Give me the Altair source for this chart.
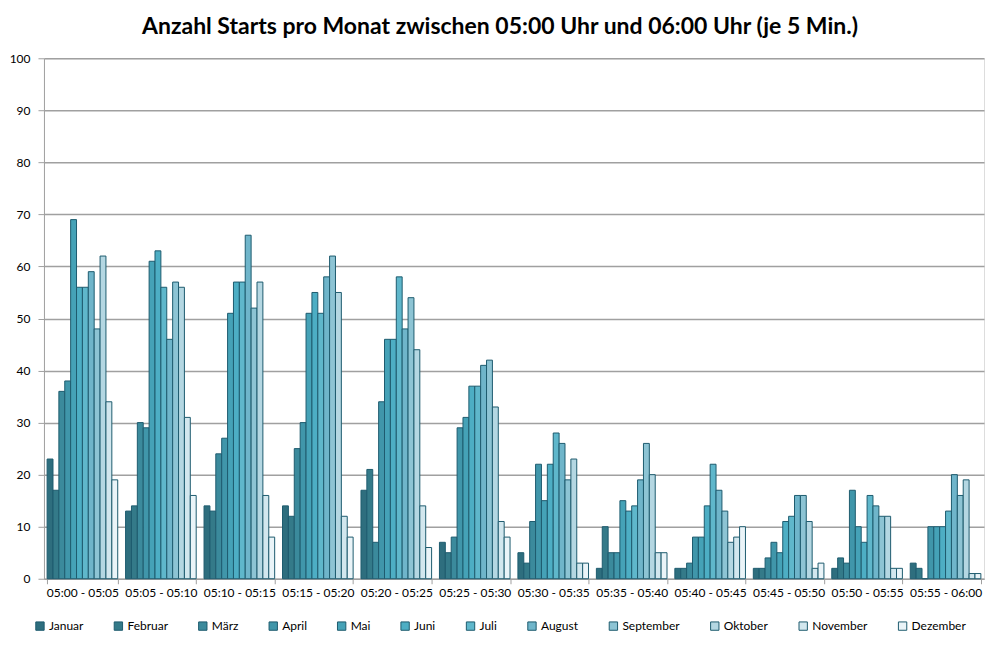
import altair as alt
import pandas as pd

months = ["Januar", "Februar", "März", "April", "Mai", "Juni", "Juli",
          "August", "September", "Oktober", "November", "Dezember"]
intervals = ["05:00 - 05:05", "05:05 - 05:10", "05:10 - 05:15", "05:15 - 05:20",
             "05:20 - 05:25", "05:25 - 05:30", "05:30 - 05:35", "05:35 - 05:40",
             "05:40 - 05:45", "05:45 - 05:50", "05:50 - 05:55", "05:55 - 06:00"]
# values[interval][month]
values = [
    [23, 17, 36, 38, 69, 56, 56, 59, 48, 62, 34, 19],
    [13, 14, 30, 29, 61, 63, 56, 46, 57, 56, 31, 16],
    [14, 13, 24, 27, 51, 57, 57, 66, 52, 57, 16, 8],
    [14, 12, 25, 30, 51, 55, 51, 58, 62, 55, 12, 8],
    [17, 21, 7, 34, 46, 46, 58, 48, 54, 44, 14, 6],
    [7, 5, 8, 29, 31, 37, 37, 41, 42, 33, 11, 8],
    [5, 3, 11, 22, 15, 22, 28, 26, 19, 23, 3, 3],
    [2, 10, 5, 5, 15, 13, 14, 19, 26, 20, 5, 5],
    [2, 2, 3, 8, 8, 14, 22, 17, 13, 7, 8, 10],
    [2, 2, 4, 7, 5, 11, 12, 16, 16, 11, 2, 3],
    [2, 4, 3, 17, 10, 7, 16, 14, 12, 12, 2, 2],
    [3, 2, 0, 10, 10, 10, 13, 20, 16, 19, 1, 1],
]
colors = ["#2E6E7E", "#347A89", "#3B8A9C", "#4096AA", "#45A2B7", "#4DAEC4",
          "#5FB7CB", "#6FB5CA", "#8DC4D4", "#B4D7E2", "#D2E7EE", "#EAF4F8"]

rows = []
for i, iv in enumerate(intervals):
    for j, m in enumerate(months):
        rows.append({"Intervall": iv, "Monat": m, "Anzahl": values[i][j]})
df = pd.DataFrame(rows)

font = "Lato"

chart = alt.Chart(df).mark_bar(stroke="#1E5B6E", strokeWidth=1).encode(
    x=alt.X("Intervall:N", sort=intervals, title=None,
            scale=alt.Scale(paddingInner=0.1, paddingOuter=0.04),
            axis=alt.Axis(labelAngle=0, tickBand="extent", labelFontSize=12,
                          labelColor="#000000", labelFont=font, domainColor="#A0A0A0",
                          tickColor="#A0A0A0", tickSize=5, labelPadding=4, grid=False)),
    xOffset=alt.XOffset("Monat:N", sort=months),
    y=alt.Y("Anzahl:Q", title=None,
            scale=alt.Scale(domain=[0, 100]),
            axis=alt.Axis(values=list(range(0, 101, 10)), labelFontSize=12,
                          labelColor="#000000", labelFont=font, domainColor="#A0A0A0",
                          tickColor="#A0A0A0", tickSize=6, gridColor="#A0A0A0",
                          gridWidth=1.5, labelPadding=8)),
    color=alt.Color("Monat:N", sort=months,
                    scale=alt.Scale(domain=months, range=colors),
                    legend=alt.Legend(title=None, orient="none", legendX=-10, legendY=562,
                                      direction="horizontal", columns=12,
                                      symbolType="square", symbolSize=70,
                                      symbolStrokeColor="#1E5B6E", symbolStrokeWidth=1,
                                      labelFontSize=12, labelFont=font, labelColor="#000000",
                                      columnPadding=27.5, labelOffset=3, labelLimit=200)),
).properties(
    width=941,
    height=521,
    title=alt.TitleParams("Anzahl Starts pro Monat zwischen 05:00 Uhr und 06:00 Uhr (je 5 Min.)",
                          fontSize=23, fontWeight="bold", font=font, color="#000000",
                          anchor="middle", dx=-14, offset=13),
    autosize=alt.AutoSizeParams(type="none"),
    padding={"left": 36, "top": 50, "right": 8, "bottom": 60},
).configure_view(
    fill="#EAF1F5", stroke=None
).configure(background="#FFFFFF")

chart.save("out.html", embed_options={"renderer": "svg", "actions": False})
